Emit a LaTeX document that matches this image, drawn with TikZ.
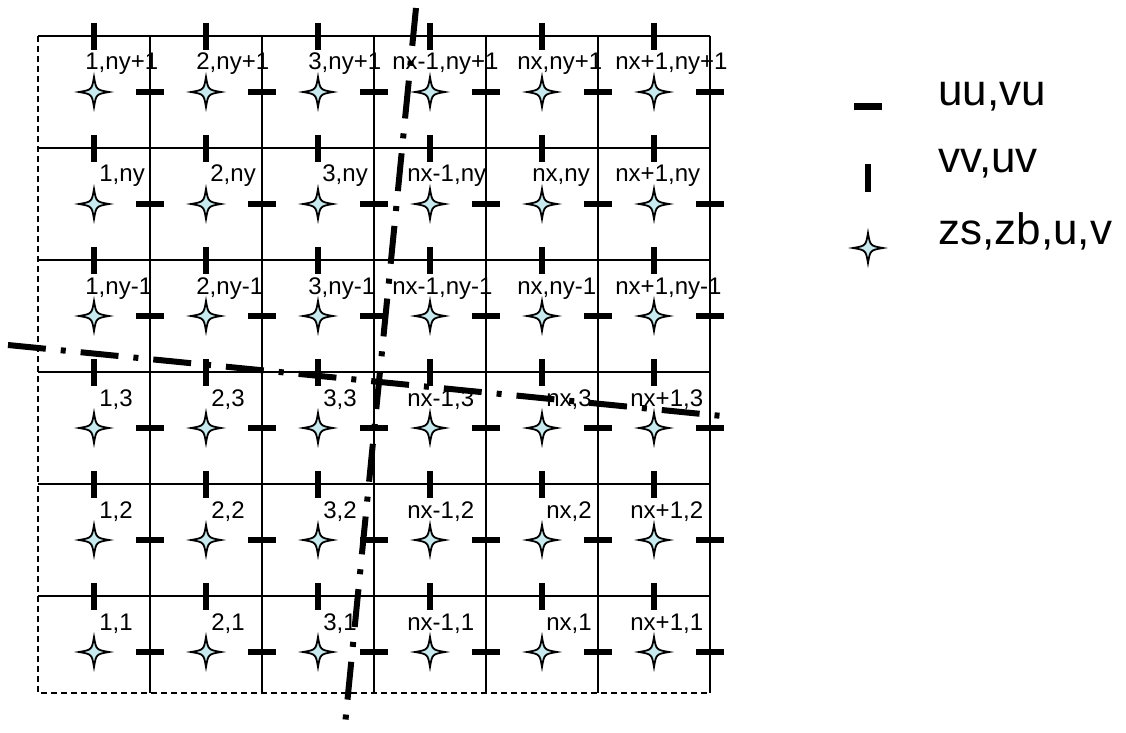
\documentclass[tikz,border=0pt]{standalone}
\usepackage{fontspec}
\setmainfont{Liberation Sans}
\usetikzlibrary{positioning}
\definecolor{starcyan}{RGB}{200,234,238}

\begin{document}
\begin{tikzpicture}[x=0.5pt, y=-0.5pt,
        gridline/.style={line width=0.75pt},
        edgeline/.style={line width=0.9pt, dash pattern=on 3pt off 2pt},
        utick/.style={line width=2.8pt},
        cutline/.style={line width=3pt, dash pattern=on 19pt off 7.5pt on 2.5pt off 7.5pt},
        cellabel/.style={anchor=base west, inner sep=0pt, font=\fontsize{12}{14}\selectfont},
        legtext/.style={anchor=base west, inner sep=0pt, font=\fontsize{22}{26}\selectfont},
        pics/cellstar/.style={code={\draw[fill=starcyan, line width=0.9pt] (0,-15) .. controls (2.2,-2.2) .. (15,0) .. controls (2.2,2.2) .. (0,15) .. controls (-2.2,2.2) .. (-15,0) .. controls (-2.2,-2.2) .. (0,-15) -- cycle;}}]
    \useasboundingbox (0,0) rectangle (1126,733);
    \foreach \y in {36,148,...,596}
        \draw[gridline] (38,\y) -- (710,\y);
    \foreach \x in {150,262,...,710}
        \draw[gridline] (\x,36) -- (\x,693);
    \draw[edgeline] (38,36) -- (38,693) -- (710,693);
    \foreach \c in {1,...,6}
        \foreach \r in {1,...,6} {
            \draw[utick] ({94+112*(\c-1)}, {23+112*(\r-1)}) -- ++(0,27);
            \draw[utick] ({136+112*(\c-1)}, {92+112*(\r-1)}) -- ++(28,0);
            \pic at ({94+112*(\c-1)}, {92+112*(\r-1)}) {cellstar};
        }
    \foreach \r/\rn/\oa/\ob/\oc/\od/\oe/\of in {1/ny+1/47/46/46/18/31/17, 2/ny/61/60/60/33/46/17, 3/ny-1/47/46/46/18/31/17, 4/3/61/61/61/33/60/32, 5/2/61/61/61/33/60/32, 6/1/61/61/61/33/60/32}
        \foreach \c/\cn/\o in {1/1/\oa, 2/2/\ob, 3/3/\oc, 4/nx-1/\od, 5/nx/\oe, 6/nx+1/\of}
            \node[cellabel] (lab-\c-\r) at ({38+112*(\c-1)+\o}, {70+112*(\r-1)}) {\cn,\rn};
    \coordinate (cutNtop) at (416,8);
    \coordinate (cutNbot) at (344,735);
    \coordinate (cutWleft) at (8,345);
    \coordinate (cutEright) at (722,416);
    \draw[cutline] (cutNtop) -- (cutNbot);
    \draw[cutline] (cutWleft) -- (cutEright);
    \draw[line width=3.5pt] (854,107) -- (882,107);
    \node[legtext] (leg-u) at (938,106) {uu,vu};
    \draw[utick] (868,164) -- (868,192);
    \node[legtext] (leg-v) at (938,173) {vv,uv};
    \pic at (868,248) {cellstar};
    \node[legtext] (leg-z) at (938,245) {zs,zb,u,v};
\end{tikzpicture}
\end{document}
